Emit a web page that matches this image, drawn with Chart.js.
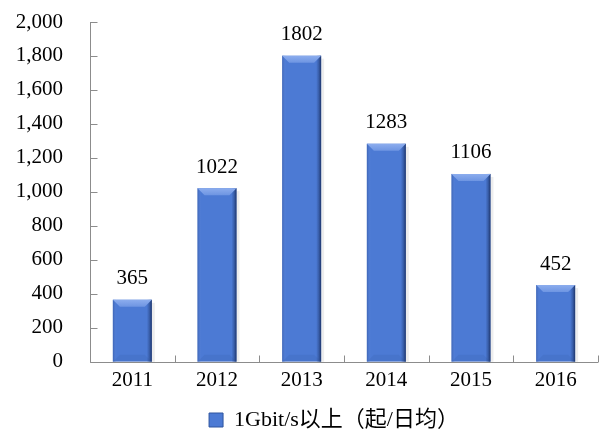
<!DOCTYPE html>
<html>
<head>
<meta charset="utf-8">
<script src="https://cdn.jsdelivr.net/npm/chart.js@4"></script>
<style>
  html, body { margin: 0; padding: 0; background: #fff; }
  #wrap { width: 607px; height: 437px; }
</style>
</head>
<body>
<div id="wrap"><canvas id="chart"></canvas></div>
<script>
const years = ['2011', '2012', '2013', '2014', '2015', '2016'];
const attacks = [365, 1022, 1802, 1283, 1106, 452];
const seriesName = '1Gbit/s以上（起/日均）';

const FONT = '"Liberation Serif", "Times New Roman", "Noto Sans CJK SC", serif';
const BAR = '#4c7ad4';

// bevel + side shading on each bar
const barShade = {
  id: 'barShade',
  afterDatasetsDraw(chart) {
    const ctx = chart.ctx;
    chart.getDatasetMeta(0).data.forEach(bar => {
      const l = bar.x - bar.width / 2, r = bar.x + bar.width / 2;
      const t = bar.y, b = bar.base;
      ctx.save();
      // soft shadow to the right
      ctx.fillStyle = 'rgba(0,0,0,0.07)';
      ctx.fillRect(r, t + 3, 3, b - t - 3);
      // right dark edge
      let g = ctx.createLinearGradient(r - 5, 0, r, 0);
      g.addColorStop(0, 'rgba(30,55,110,0)');
      g.addColorStop(0.5, 'rgba(30,55,110,0.4)');
      g.addColorStop(1, 'rgba(25,45,95,0.9)');
      ctx.fillStyle = g;
      ctx.fillRect(r - 5, t, 5, b - t);
      // left edge
      g = ctx.createLinearGradient(l, 0, l + 4, 0);
      g.addColorStop(0, 'rgba(50,85,160,0.6)');
      g.addColorStop(1, 'rgba(110,150,230,0)');
      ctx.fillStyle = g;
      ctx.fillRect(l, t, 4, b - t);
      const bv = Math.min(7, (b - t) / 2);
      // bottom bevel, slightly darker
      ctx.beginPath();
      ctx.moveTo(l, b);
      ctx.lineTo(r, b);
      ctx.lineTo(r - bv, b - bv);
      ctx.lineTo(l + bv, b - bv);
      ctx.closePath();
      ctx.fillStyle = 'rgba(40,70,140,0.12)';
      ctx.fill();
      // top bevel
      ctx.beginPath();
      ctx.moveTo(l, t);
      ctx.lineTo(r, t);
      ctx.lineTo(r - bv, t + bv);
      ctx.lineTo(l + bv, t + bv);
      ctx.closePath();
      g = ctx.createLinearGradient(0, t, 0, t + bv);
      g.addColorStop(0, '#8cadee');
      g.addColorStop(1, '#6e95e2');
      ctx.fillStyle = g;
      ctx.fill();
      ctx.restore();
    });
  }
};

// value labels above bars
const valueLabels = {
  id: 'valueLabels',
  afterDatasetsDraw(chart) {
    const ctx = chart.ctx;
    const ds = chart.data.datasets[0];
    ctx.save();
    ctx.font = '21px ' + FONT;
    ctx.fillStyle = '#000';
    ctx.textAlign = 'center';
    ctx.textBaseline = 'middle';
    chart.getDatasetMeta(0).data.forEach((bar, i) => {
      ctx.fillText(String(ds.data[i]), bar.x, bar.y - 21);
    });
    ctx.restore();
  }
};

// axis lines with inward tick marks
const axisTicks = {
  id: 'axisTicks',
  afterDraw(chart) {
    const ctx = chart.ctx;
    const x = chart.scales.x, y = chart.scales.y;
    const ax = Math.round(chart.chartArea.left) + 0.5;
    const ay = Math.round(chart.chartArea.bottom) + 0.5;
    ctx.save();
    ctx.strokeStyle = '#8c8c8c';
    ctx.lineWidth = 1;
    ctx.beginPath();
    ctx.moveTo(ax, chart.chartArea.top);
    ctx.lineTo(ax, ay);
    ctx.lineTo(chart.chartArea.right, ay);
    y.ticks.forEach((t, i) => {
      const py = Math.round(y.getPixelForTick(i)) + 0.5;
      ctx.moveTo(ax, py);
      ctx.lineTo(ax + 7, py);
    });
    for (let i = 0; i <= years.length; i++) {
      const px = Math.round(x.left + i * (x.right - x.left) / years.length) + 0.5;
      ctx.moveTo(px, ay);
      ctx.lineTo(px, ay - 7);
    }
    ctx.stroke();
    ctx.restore();
  }
};

// nudge the legend a bit to the right
const legendShift = {
  id: 'legendShift',
  afterLayout(chart) {
    chart.legend.left += 30;
    chart.legend.right += 30;
  }
};

new Chart(document.getElementById('chart'), {
  type: 'bar',
  data: {
    labels: years,
    datasets: [{
      label: seriesName,
      data: attacks,
      backgroundColor: BAR,
      borderWidth: 0,
      barPercentage: 0.46,
      categoryPercentage: 1
    }]
  },
  options: {
    responsive: true,
    maintainAspectRatio: false,
    animation: false,
    layout: { padding: { top: 0, right: 9, left: 10, bottom: -4 } },
    plugins: {
      legend: {
        position: 'bottom',
        labels: {
          boxWidth: 14,
          boxHeight: 14,
          padding: 10,
          color: '#000',
          font: { family: FONT, size: 22 },
          generateLabels: chart => [{
            text: seriesName,
            fillStyle: BAR,
            strokeStyle: '#2f559f',
            lineWidth: 1,
            datasetIndex: 0
          }]
        }
      },
      tooltip: { enabled: false }
    },
    scales: {
      x: {
        grid: { display: false, drawTicks: false },
        border: { display: false },
        ticks: { color: '#000', padding: 4, font: { family: FONT, size: 21, lineHeight: 1.39 } }
      },
      y: {
        min: 0,
        max: 2000,
        grid: { display: false, drawTicks: false },
        border: { display: false },
        afterFit: scale => {
          scale.width = 80;
          scale.paddingTop = 22;
          scale.paddingBottom = 12;
        },
        ticks: {
          stepSize: 200,
          color: '#000',
          padding: 27,
          font: { family: FONT, size: 21 },
          callback: v => v.toLocaleString('en-US')
        }
      }
    }
  },
  plugins: [barShade, valueLabels, axisTicks, legendShift]
});
</script>
</body>
</html>
